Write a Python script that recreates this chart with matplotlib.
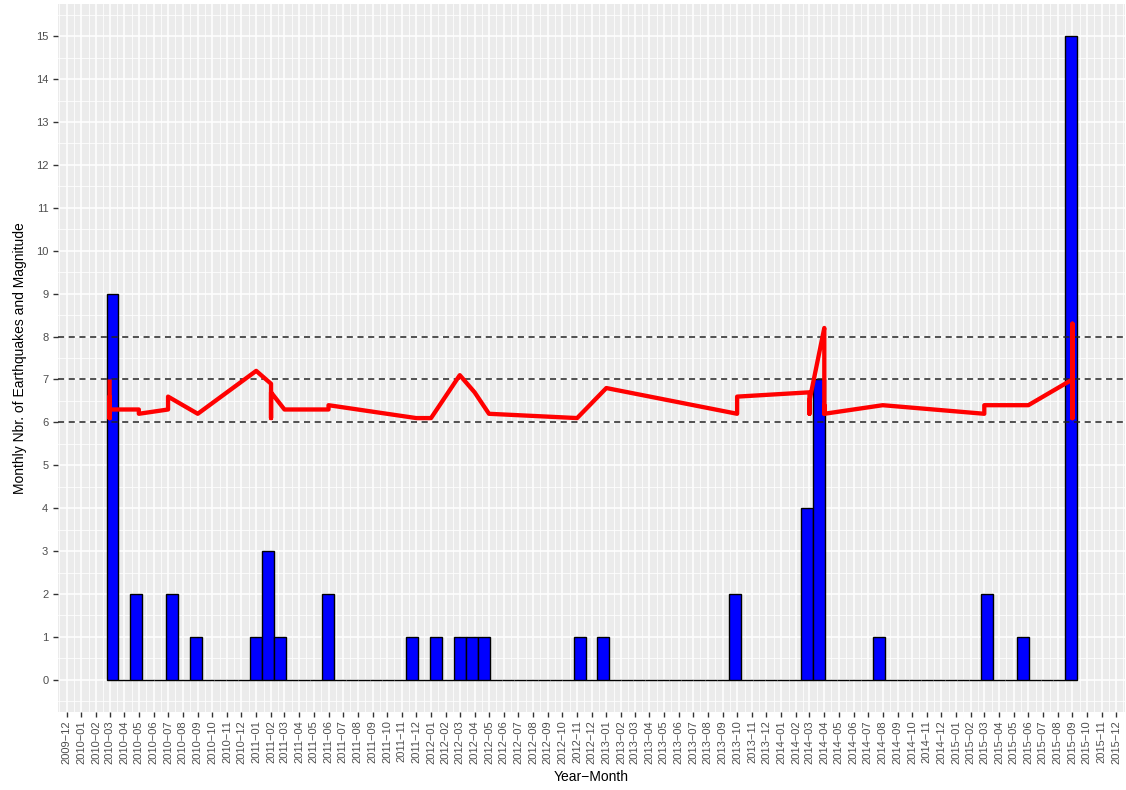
"""
Monthly earthquake counts (histogram bars) with event magnitudes (red line).
"""
import numpy as np
import pandas as pd
import matplotlib
matplotlib.use('Agg')
import matplotlib.pyplot as plt
import matplotlib.dates as mdates

plt.rcParams['font.family'] = ['Liberation Sans', 'DejaVu Sans']

# events, grouped by month (order inside a month = order along the line)
quake_months = ['2010-03', '2010-05', '2010-07', '2010-09', '2011-01', '2011-02',
                '2011-03', '2011-06', '2011-12', '2012-01', '2012-03', '2012-04',
                '2012-05', '2012-11', '2013-01', '2013-10', '2014-03', '2014-04',
                '2014-08', '2015-03', '2015-06', '2015-09']
quake_mags = [
    [7.0, 6.9, 6.1, 6.6, 6.2, 6.1, 6.5, 6.2, 6.3],
    [6.3, 6.2],
    [6.3, 6.6],
    [6.2],
    [7.2],
    [6.9, 6.1, 6.7],
    [6.3],
    [6.3, 6.4],
    [6.1],
    [6.1],
    [7.1],
    [6.7],
    [6.2],
    [6.1],
    [6.8],
    [6.2, 6.6],
    [6.7, 6.2, 6.4, 6.5],
    [8.2, 7.7, 6.5, 6.2, 6.4, 6.3, 6.2],
    [6.4],
    [6.2, 6.4],
    [6.4],
    [7.0, 8.3, 6.4, 7.0, 6.3, 6.5, 6.1, 6.9, 6.4, 6.2, 6.6, 6.3, 6.1, 6.4, 6.2],
]
ref_levels = [6, 7, 8]

# histogram bins (25-day bins)
bin_origin = '2010-02-22 12:00'
bin_days = 25
n_bins = 81

dates = []
mags = []
for m, vals in zip(quake_months, quake_mags):
    for v in vals:
        dates.append(pd.Timestamp(m + '-01'))
        mags.append(v)
x_line = mdates.date2num(dates)
edges = mdates.date2num(pd.Timestamp(bin_origin)) + bin_days * np.arange(n_bins + 1)
counts, _ = np.histogram(x_line, bins=edges)

fig = plt.figure(figsize=(11.26, 7.9), dpi=100)
ax = fig.add_axes([58 / 1126, 1 - 712 / 790, 1067 / 1126, 708 / 790])
ax.set_facecolor('#EBEBEB')
for s in ax.spines.values():
    s.set_visible(False)

ax.bar(edges[:-1], counts, width=bin_days, align='edge', color='blue',
       edgecolor='black', linewidth=1.0, zorder=2)
for lv in ref_levels:
    ax.axhline(lv, color='#222222', linestyle=(0, (4, 3)), linewidth=1.1, zorder=3)
ax.plot(x_line, mags, color='red', linewidth=3.1, solid_joinstyle='round',
        solid_capstyle='butt', zorder=4)

# limits with 5% expansion like ggplot
lo = min(edges[0], x_line.min())
hi = max(edges[-1], x_line.max())
pad = 0.05 * (hi - lo)
ax.set_xlim(lo - pad, hi + pad)
ax.set_ylim(-0.05 * counts.max(), counts.max() * 1.05)

months = pd.date_range('2009-12-01', '2015-12-01', freq='MS')
mt = mdates.date2num(months)
ax.set_xticks(mt)
ax.set_xticklabels([d.strftime('%Y-%m').replace('-', '\u2212') for d in months],
                   rotation=90)
minor_x = np.concatenate([[mt[0] - 15], (mt[:-1] + mt[1:]) / 2, [mt[-1] + 15]])
ax.set_xticks(minor_x, minor=True)
ax.set_yticks(np.arange(0, 16))
ax.set_yticks(np.arange(-0.5, 16, 1), minor=True)

ax.grid(which='major', color='white', linewidth=1.1)
ax.grid(which='minor', color='white', linewidth=0.55)
ax.set_axisbelow(True)
ax.tick_params(which='major', length=3.5, width=1, color='#333333',
               labelcolor='#4D4D4D', labelsize=8, pad=2.5)
ax.tick_params(axis='y', which='major', pad=3.5)
ax.tick_params(which='minor', length=0)

ax.set_xlabel('Year\u2212Month', fontsize=10, labelpad=4)
ax.set_ylabel('Monthly Nbr. of Earthquakes and Magnitude', fontsize=10, labelpad=6)

plt.savefig('out.png', dpi=100)
plt.close()
